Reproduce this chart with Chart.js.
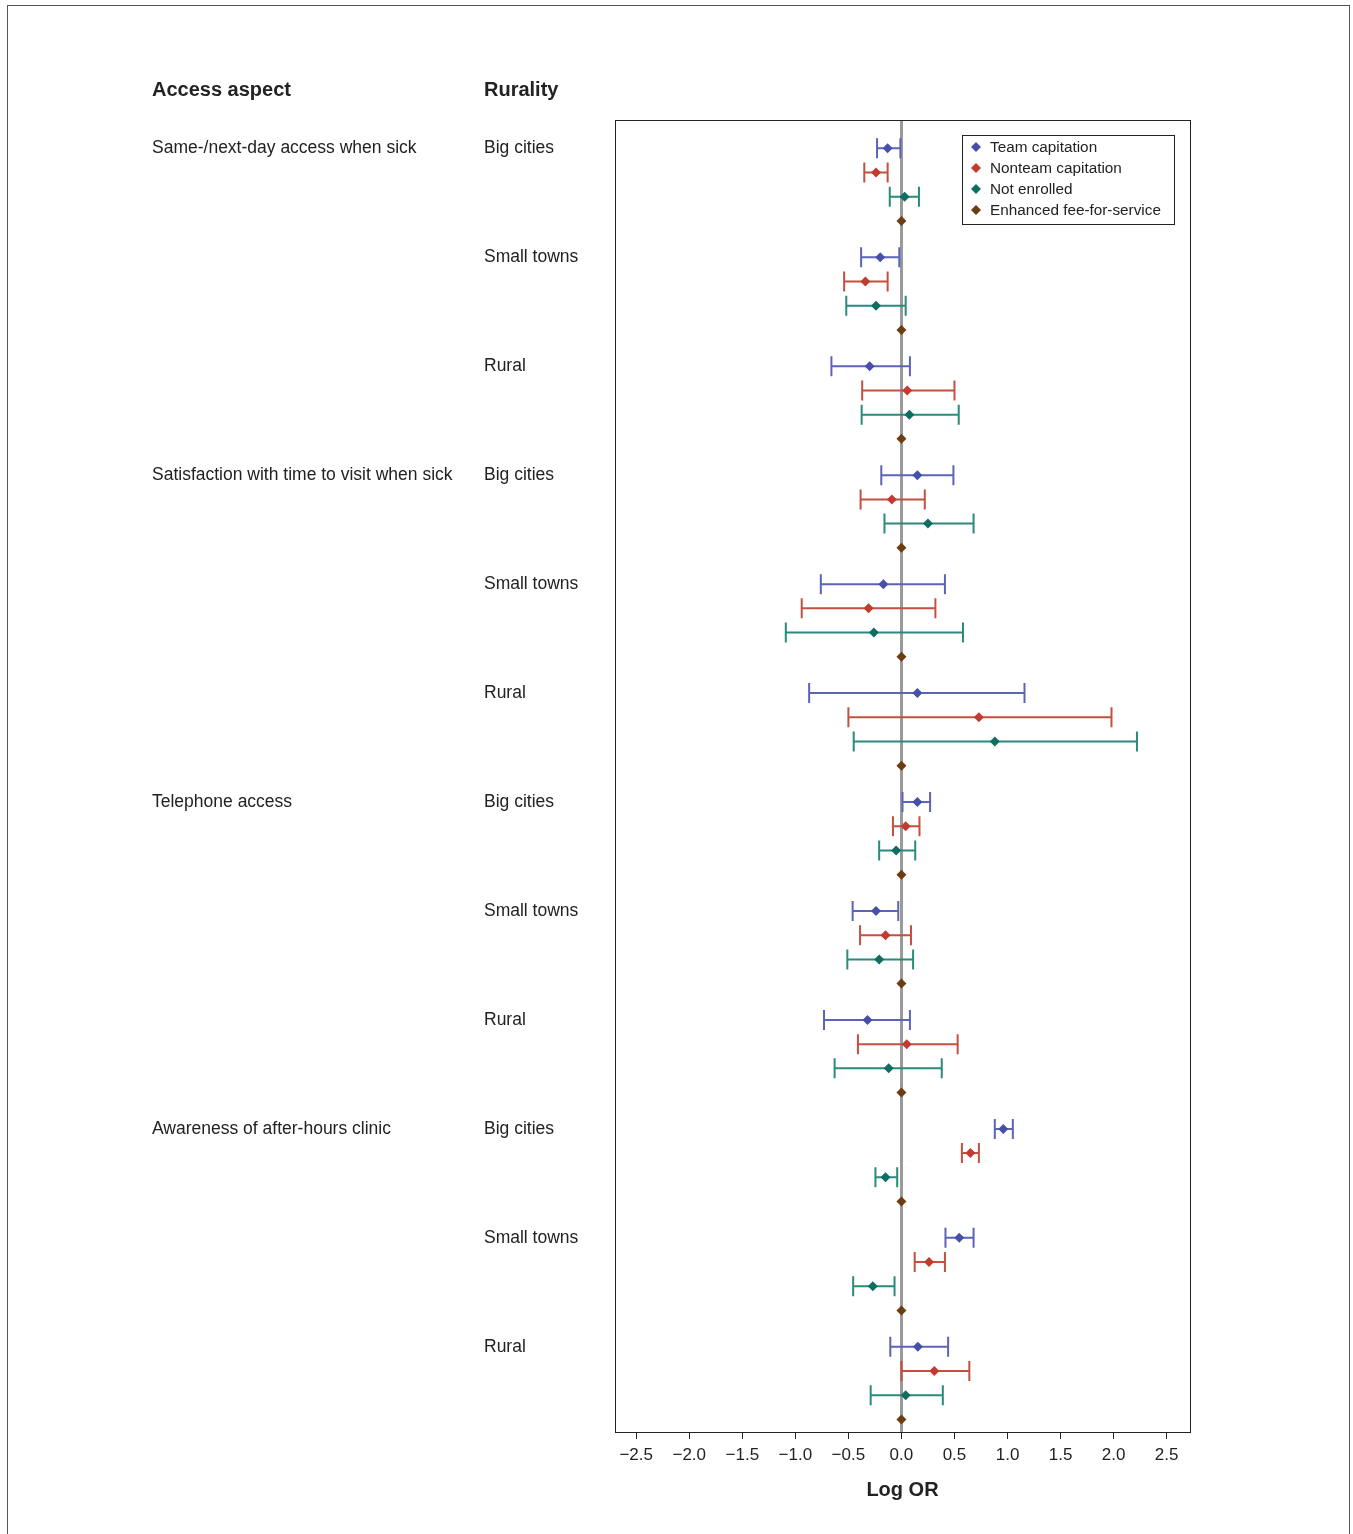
<!DOCTYPE html>
<html>
<head>
<meta charset="utf-8">
<script src="https://cdn.jsdelivr.net/npm/chart.js@4"></script>
<style>
  html, body { margin: 0; padding: 0; background: #fff; }
  #wrap { width: 1353px; height: 1534px; }
</style>
</head>
<body>
<div id="wrap"><canvas id="forest" width="1353" height="1534"></canvas></div>
<script>
// row labels on the left
const aspects = ['Same-/next-day access when sick', 'Satisfaction with time to visit when sick', 'Telephone access', 'Awareness of after-hours clinic'];
const ruralities = ['Big cities', 'Small towns', 'Rural'];
const seriesNames = ['Team capitation', 'Nonteam capitation', 'Not enrolled', 'Enhanced fee-for-service'];
const xTicks = [-2.5, -2.0, -1.5, -1.0, -0.5, 0.0, 0.5, 1.0, 1.5, 2.0, 2.5];

// log OR estimates and 95% CI, one value per aspect x rurality (12 groups)
const teamEst = [-0.13, -0.20, -0.30, 0.15, -0.17, 0.15, 0.15, -0.24, -0.32, 0.96, 0.545, 0.155];
const teamLo  = [-0.23, -0.38, -0.66, -0.19, -0.76, -0.87, 0.01, -0.46, -0.73, 0.88, 0.415, -0.105];
const teamHi  = [-0.01, -0.02, 0.08, 0.49, 0.41, 1.16, 0.27, -0.03, 0.08, 1.05, 0.68, 0.44];

const nonteamEst = [-0.24, -0.34, 0.055, -0.09, -0.31, 0.73, 0.04, -0.15, 0.05, 0.65, 0.26, 0.31];
const nonteamLo  = [-0.35, -0.54, -0.37, -0.385, -0.94, -0.50, -0.08, -0.39, -0.41, 0.57, 0.125, 0.0];
const nonteamHi  = [-0.13, -0.13, 0.50, 0.22, 0.32, 1.98, 0.17, 0.09, 0.53, 0.73, 0.41, 0.64];

const notEnrEst = [0.03, -0.24, 0.075, 0.25, -0.26, 0.88, -0.05, -0.21, -0.12, -0.15, -0.27, 0.04];
const notEnrLo  = [-0.11, -0.52, -0.375, -0.16, -1.09, -0.45, -0.21, -0.51, -0.63, -0.245, -0.455, -0.29];
const notEnrHi  = [0.165, 0.04, 0.54, 0.68, 0.58, 2.22, 0.13, 0.11, 0.38, -0.04, -0.065, 0.39];

// reference category
const effsEst = [0, 0, 0, 0, 0, 0, 0, 0, 0, 0, 0, 0];

const pointColors = ['#4650a8', '#c23b2e', '#0f6e62', '#6b3d12'];
const barColors = ['#5c64b8', '#c4503f', '#2a8a7b', '#6b3d12'];

const groupStep = 4.5; // rows per group incl. gap

function rows(est, s) {
  return est.map((v, g) => ({ x: v, y: g * groupStep + s }));
}

const FONT = "'Liberation Sans', Arial, Helvetica, sans-serif";
Chart.defaults.font.family = FONT;
Chart.defaults.color = '#222';

const series = [
  { est: teamEst, lo: teamLo, hi: teamHi },
  { est: nonteamEst, lo: nonteamLo, hi: nonteamHi },
  { est: notEnrEst, lo: notEnrLo, hi: notEnrHi },
  { est: effsEst, lo: null, hi: null }
];

const datasets = series.map((s, i) => ({
  label: seriesNames[i],
  data: rows(s.est, i),
  lo: s.lo,
  hi: s.hi,
  barColor: barColors[i],
  pointStyle: 'rectRot',
  pointRadius: 5,
  pointHoverRadius: 5,
  backgroundColor: pointColors[i],
  borderColor: pointColors[i],
  borderWidth: 0
}));

// horizontal CI whiskers with caps
const errorBars = {
  id: 'errorBars',
  beforeDatasetsDraw(chart) {
    const { ctx, scales: { x, y } } = chart;
    ctx.save();
    ctx.lineWidth = 2;
    chart.data.datasets.forEach(ds => {
      if (!ds.lo) return;
      ctx.strokeStyle = ds.barColor;
      ds.data.forEach((p, k) => {
        const yy = y.getPixelForValue(p.y);
        const x0 = x.getPixelForValue(ds.lo[k]);
        const x1 = x.getPixelForValue(ds.hi[k]);
        ctx.beginPath();
        ctx.moveTo(x0, yy); ctx.lineTo(x1, yy);
        ctx.moveTo(x0, yy - 10); ctx.lineTo(x0, yy + 10);
        ctx.moveTo(x1, yy - 10); ctx.lineTo(x1, yy + 10);
        ctx.stroke();
      });
    });
    ctx.restore();
  }
};

// frame, left-hand labels, legend box, outer border
const decor = {
  id: 'decor',
  afterDraw(chart) {
    const { ctx, chartArea: a, scales: { y } } = chart;
    ctx.save();
    ctx.strokeStyle = '#222';
    ctx.lineWidth = 1;
    ctx.strokeRect(Math.round(a.left) + 0.5, Math.round(a.top) + 0.5, Math.round(a.right - a.left), Math.round(a.bottom - a.top));

    // outer figure border
    ctx.strokeStyle = '#555';
    ctx.strokeRect(7.5, 5.5, 1342, 1530);

    ctx.fillStyle = '#222';
    ctx.textBaseline = 'middle';
    ctx.textAlign = 'left';
    ctx.font = 'bold 20px ' + FONT;
    ctx.fillText('Access aspect', 152, 90);
    ctx.fillText('Rurality', 484, 90);

    ctx.font = '17.5px ' + FONT;
    aspects.forEach((asp, ai) => {
      ruralities.forEach((r, ri) => {
        const g = ai * 3 + ri;
        const yy = y.getPixelForValue(g * groupStep);
        if (ri === 0) ctx.fillText(asp, 152, yy);
        ctx.fillText(r, 484, yy);
      });
    });

    // legend
    const lx = 962, ly = 135, lw = 212, lh = 89;
    ctx.fillStyle = '#fff';
    ctx.fillRect(lx, ly, lw, lh);
    ctx.strokeStyle = '#222';
    ctx.strokeRect(lx + 0.5, ly + 0.5, lw, lh);
    ctx.font = '15.3px ' + FONT;
    chart.data.datasets.forEach((ds, i) => {
      const yy = ly + 12 + i * 21;
      const cx = lx + 14;
      ctx.fillStyle = ds.backgroundColor;
      ctx.beginPath();
      ctx.moveTo(cx, yy - 5); ctx.lineTo(cx + 5, yy); ctx.lineTo(cx, yy + 5); ctx.lineTo(cx - 5, yy);
      ctx.closePath();
      ctx.fill();
      ctx.fillStyle = '#222';
      ctx.fillText(ds.label, lx + 28, yy + 1);
    });
    ctx.restore();
  }
};

new Chart(document.getElementById('forest'), {
  type: 'scatter',
  data: { datasets },
  plugins: [errorBars, decor],
  options: {
    responsive: false,
    animation: false,
    layout: { padding: { left: 615, right: 163, top: 120, bottom: 0 } },
    plugins: { legend: { display: false }, tooltip: { enabled: false } },
    scales: {
      x: {
        type: 'linear',
        min: -2.7,
        max: 2.72,
        afterBuildTicks(scale) { scale.ticks = xTicks.map(v => ({ value: v })); },
        afterFit(scale) { scale.height = 102; },
        border: { display: false },
        grid: {
          drawOnChartArea: true,
          color: c => (c.tick && c.tick.value === 0 ? '#9a9a9a' : 'rgba(0,0,0,0)'),
          lineWidth: c => (c.tick && c.tick.value === 0 ? 3 : 1),
          tickColor: '#222',
          tickWidth: 1,
          tickLength: 7
        },
        ticks: {
          padding: 6,
          font: { size: 17 },
          color: '#222',
          maxRotation: 0,
          callback: v => v.toFixed(1).replace('-', '\u2212')
        },
        title: {
          display: true,
          text: 'Log OR',
          font: { size: 20, weight: 'bold' },
          color: '#222',
          padding: { top: 0, bottom: 32 }
        }
      },
      y: {
        type: 'linear',
        display: false,
        reverse: true,
        min: -1.17,
        max: 53.02
      }
    }
  }
});
</script>
</body>
</html>
